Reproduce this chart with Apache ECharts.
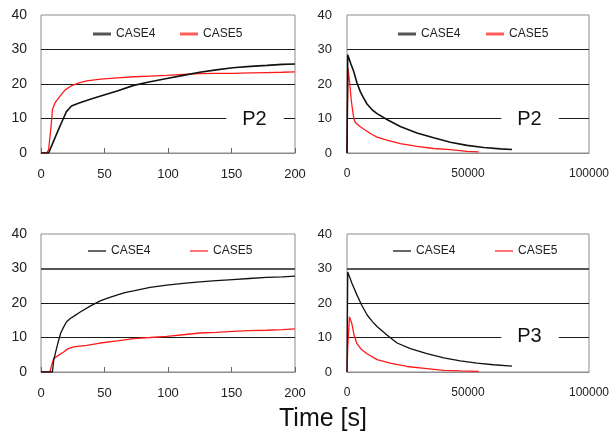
<!DOCTYPE html>
<html>
<head>
<meta charset="utf-8">
<script src="https://cdn.jsdelivr.net/npm/echarts@6/dist/echarts.min.js"></script>
<style>
html,body{margin:0;padding:0;background:#fff;}
#chart{width:614px;height:443px;}
</style>
</head>
<body>
<div id="chart"></div>
<script>
// ---------- DATA ----------
// Top-left panel (P2, 0-200 s)
const tlTime4 = [0, 6, 10, 14, 17, 20, 24, 30, 40, 47, 60, 73, 85, 99, 112, 125, 138, 151, 165, 178, 190, 200];
const tlCase4 = [0, 0, 3.5, 7, 9.5, 12, 13.6, 14.5, 15.7, 16.5, 18, 19.6, 20.6, 21.6, 22.5, 23.4, 24.1, 24.7, 25.1, 25.4, 25.7, 25.8];
const tlTime5 = [0, 4.5, 6, 8, 9, 11, 15, 19, 24, 30, 36, 47, 60, 73, 86, 99, 112, 125, 138, 151, 165, 178, 190, 200];
const tlCase5 = [0, 0, 1, 8, 12.6, 14.5, 16.5, 18.3, 19.5, 20.3, 20.9, 21.4, 21.8, 22.1, 22.3, 22.5, 22.8, 23, 23.1, 23.1, 23.2, 23.3, 23.4, 23.5];

// Top-right panel (P2, 0-100000 s)
const trTime4 = [0, 300, 1500, 2750, 4130, 5500, 6900, 8260, 10300, 12400, 16500, 22000, 28900, 35800, 42700, 49600, 56500, 63400, 68200];
const trCase4 = [0, 28.5, 26, 23.7, 20.3, 17.8, 15.9, 14.2, 12.6, 11.4, 9.7, 7.7, 5.8, 4.4, 3.1, 2.2, 1.6, 1.2, 1.0];
const trTime5 = [0, 400, 1000, 1800, 2800, 3500, 5500, 8260, 10000, 12400, 16500, 22000, 28900, 35800, 42700, 49600, 54400];
const trCase5 = [0, 24.7, 21, 15, 10, 8.8, 7.6, 6.3, 5.5, 4.6, 3.7, 2.7, 1.9, 1.3, 1.0, 0.5, 0.3];

// Bottom-left panel (0-200 s)
const blTime4 = [0, 9, 10, 12, 13.9, 15.5, 17.8, 20, 23, 26, 30.9, 38.7, 46.6, 53, 59.7, 66, 72.8, 85.9, 99, 112, 125, 138, 151, 164, 177.5, 190, 200];
const blCase4 = [0, 0, 3.4, 6.5, 9.2, 11.3, 13, 14.5, 15.5, 16.2, 17.4, 19.1, 20.6, 21.5, 22.3, 23, 23.5, 24.5, 25.2, 25.7, 26.1, 26.5, 26.8, 27.1, 27.4, 27.6, 27.8];
const blTime5 = [0, 7, 8, 10, 14, 17.8, 21, 25.7, 36, 46.6, 60, 72.8, 86, 99, 112, 125, 138, 151, 164, 177.5, 190, 200];
const blCase5 = [0, 0, 1.5, 3.9, 4.9, 5.8, 6.7, 7.3, 7.7, 8.4, 9.0, 9.7, 10.0, 10.3, 10.8, 11.3, 11.5, 11.8, 12, 12.1, 12.3, 12.5];

// Bottom-right panel (P3, 0-100000 s)
const brTime4 = [0, 300, 2000, 4000, 6000, 8260, 10500, 12400, 16500, 20700, 26200, 33000, 40000, 46800, 53700, 60600, 68200];
const brCase4 = [0, 29, 25.8, 22.5, 19.5, 16.6, 14.6, 13.2, 10.7, 8.4, 6.8, 5.3, 4.1, 3.2, 2.6, 2.1, 1.7];
const brTime5 = [0, 300, 1000, 2000, 3000, 4100, 6000, 8260, 12400, 17900, 24800, 33000, 40000, 46800, 54400];
const brCase5 = [0, 7, 16, 14, 10.5, 8.2, 6.5, 5.3, 3.6, 2.6, 1.6, 1.0, 0.5, 0.3, 0.2];

const seriesNames = ['CASE4', 'CASE5'];
const yTicks = [0, 10, 20, 30, 40];
const shortTicks = [0, 50, 100, 150, 200];
const longTicks = [0, 50000, 100000];
const panelLabels = ['P2', 'P2', '', 'P3'];
const xTitle = 'Time [s]';

// ---------- BUILD ----------
const zip = (xs, ys) => xs.map((x, i) => [x, ys[i]]);
const FONT = 'Liberation Sans, Arial, sans-serif';

const grids = [
  {left: 41, top: 15, width: 254, height: 138},
  {left: 347, top: 15, width: 242, height: 138},
  {left: 41, top: 234, width: 254, height: 138},
  {left: 347, top: 234, width: 242, height: 138}
].map(g => Object.assign({show: true, borderColor: '#8c8c8c', borderWidth: 1, backgroundColor: '#fff'}, g));

function xAxis(i) {
  const short = (i % 2 === 0);
  const ticks = short ? shortTicks : longTicks;
  return {
    type: 'value', gridIndex: i, min: ticks[0], max: ticks[ticks.length - 1],
    interval: ticks[1] - ticks[0],
    axisLine: {show: true, lineStyle: {color: '#8c8c8c', width: 1}},
    axisTick: {show: short, inside: true, length: 5, lineStyle: {color: '#666'}},
    splitLine: {show: false},
    axisLabel: {color: '#222', fontFamily: FONT, fontSize: short ? 13 : 12, margin: 15,
      showMinLabel: true, showMaxLabel: true, formatter: v => String(v)}
  };
}
function yAxis(i) {
  const left = (i % 2 === 0);
  return {
    type: 'value', gridIndex: i, min: yTicks[0], max: yTicks[yTicks.length - 1],
    interval: yTicks[1] - yTicks[0],
    axisLine: {show: false}, axisTick: {show: false},
    splitLine: {show: true, lineStyle: {color: ['rgba(0,0,0,0)', '#1a1a1a', '#1a1a1a', '#1a1a1a', 'rgba(0,0,0,0)'], width: 1}},
    axisLabel: {color: '#222', fontFamily: FONT, fontSize: left ? 14 : 13, margin: left ? 14 : 15}
  };
}

const panelData = [
  [zip(tlTime4, tlCase4), zip(tlTime5, tlCase5)],
  [zip(trTime4, trCase4), zip(trTime5, trCase5)],
  [zip(blTime4, blCase4), zip(blTime5, blCase5)],
  [zip(brTime4, brCase4), zip(brTime5, brCase5)]
];

const series = [];
panelData.forEach((pair, i) => {
  pair.forEach((d, k) => {
    const s = {
      name: seriesNames[k], type: 'line', xAxisIndex: i, yAxisIndex: i,
      data: d, showSymbol: false, symbol: 'none', animation: false,
      lineStyle: {color: k === 0 ? '#111' : '#ff1a1a', width: (i < 2 && k === 0) ? 1.6 : 1.3},
      itemStyle: {color: k === 0 ? '#111' : '#ff1a1a'},
      z: k === 0 ? 3 : 2
    };
    if (i >= 2 && k === 0) {
      s.markLine = {silent: true, symbol: 'none', label: {show: false}, animation: false,
        lineStyle: {color: '#555', width: 2, type: 'solid'}, data: [{yAxis: 30}]};
    }
    series.push(s);
  });
});

// legends: [iconLeft, centerY] for CASE4 and CASE5 in each panel
const legendPos = [
  [[93, 35], [180, 35]],
  [[398, 35], [486, 35]],
  [[88, 252], [190, 252]],
  [[393, 252], [495, 252]]
];
const legends = [];
legendPos.forEach((pp, i) => {
  pp.forEach((p, k) => {
    const thick = i < 2;
    legends.push({
      left: p[0], top: p[1] - 7, padding: 0, itemGap: 0,
      itemWidth: 18, itemHeight: thick ? 3 : 1.2, icon: 'rect',
      selectedMode: false,
      textStyle: {color: '#222', fontFamily: FONT, fontSize: 12},
      data: [{name: seriesNames[k], icon: 'rect',
        itemStyle: {color: k === 0 ? (thick ? '#555' : '#000') : (thick ? '#ff5c5c' : '#ff1a1a'), borderWidth: 0}}]
    });
  });
});

const labelPos = [[255, 119], [530, 119], null, [530, 336]];
const graphic = [];
labelPos.forEach((p, i) => {
  if (!p || !panelLabels[i]) return;
  graphic.push({
    type: 'text', x: p[0], y: p[1], z: 50,
    style: {text: panelLabels[i], fill: '#111', font: '20px ' + FONT,
      align: 'center', verticalAlign: 'middle',
      backgroundColor: '#fff', padding: [2, 17, 2, 16]}
  });
});
graphic.push({
  type: 'text', x: 323, y: 419, z: 50,
  style: {text: xTitle, fill: '#111', font: '25px ' + FONT, align: 'center', verticalAlign: 'middle'}
});

const chart = echarts.init(document.getElementById('chart'), null, {renderer: 'canvas'});
chart.setOption({
  animation: false,
  backgroundColor: '#fff',
  grid: grids,
  xAxis: [0, 1, 2, 3].map(xAxis),
  yAxis: [0, 1, 2, 3].map(yAxis),
  legend: legends,
  series: series,
  graphic: graphic
});
</script>
</body>
</html>
